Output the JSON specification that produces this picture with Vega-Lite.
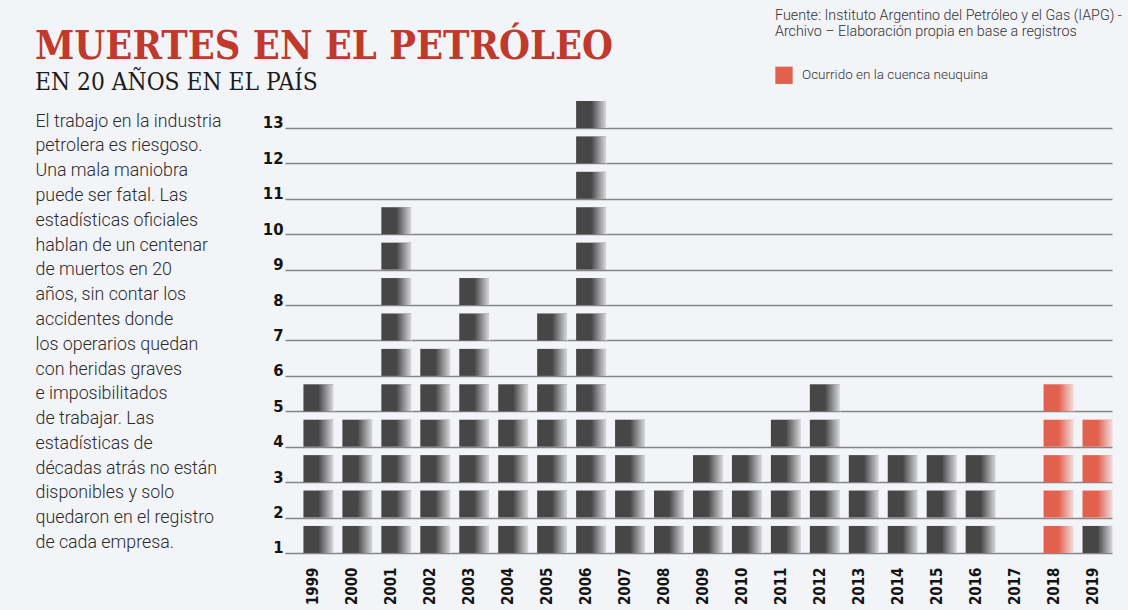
{
  "$schema": "https://vega.github.io/schema/vega-lite/v6.json",
  "width": 827,
  "height": 465,
  "autosize": {"type": "none"},
  "padding": {"left": 285, "top": 100, "right": 16, "bottom": 45},
  "background": "#f3f4f8",
  "title": {
    "text": "MUERTES EN EL PETRÓLEO",
    "subtitle": "EN 20 AÑOS EN EL PAÍS",
    "anchor": "start",
    "frame": "group",
    "dx": -250,
    "dy": 93,
    "offset": 6,
    "font": "DejaVu Serif Condensed",
    "fontWeight": "bold",
    "fontSize": 39.5,
    "color": "#c0392b",
    "subtitleFont": "DejaVu Serif Condensed",
    "subtitleFontSize": 24.3,
    "subtitleColor": "#1b1b1b",
    "subtitlePadding": 3
  },
  "data": {
    "values": [
      {"year": "1999", "n": 1, "zona": "resto"}, {"year": "1999", "n": 2, "zona": "resto"}, {"year": "1999", "n": 3, "zona": "resto"}, {"year": "1999", "n": 4, "zona": "resto"}, {"year": "1999", "n": 5, "zona": "resto"},
      {"year": "2000", "n": 1, "zona": "resto"}, {"year": "2000", "n": 2, "zona": "resto"}, {"year": "2000", "n": 3, "zona": "resto"}, {"year": "2000", "n": 4, "zona": "resto"},
      {"year": "2001", "n": 1, "zona": "resto"}, {"year": "2001", "n": 2, "zona": "resto"}, {"year": "2001", "n": 3, "zona": "resto"}, {"year": "2001", "n": 4, "zona": "resto"}, {"year": "2001", "n": 5, "zona": "resto"}, {"year": "2001", "n": 6, "zona": "resto"}, {"year": "2001", "n": 7, "zona": "resto"}, {"year": "2001", "n": 8, "zona": "resto"}, {"year": "2001", "n": 9, "zona": "resto"}, {"year": "2001", "n": 10, "zona": "resto"},
      {"year": "2002", "n": 1, "zona": "resto"}, {"year": "2002", "n": 2, "zona": "resto"}, {"year": "2002", "n": 3, "zona": "resto"}, {"year": "2002", "n": 4, "zona": "resto"}, {"year": "2002", "n": 5, "zona": "resto"}, {"year": "2002", "n": 6, "zona": "resto"},
      {"year": "2003", "n": 1, "zona": "resto"}, {"year": "2003", "n": 2, "zona": "resto"}, {"year": "2003", "n": 3, "zona": "resto"}, {"year": "2003", "n": 4, "zona": "resto"}, {"year": "2003", "n": 5, "zona": "resto"}, {"year": "2003", "n": 6, "zona": "resto"}, {"year": "2003", "n": 7, "zona": "resto"}, {"year": "2003", "n": 8, "zona": "resto"},
      {"year": "2004", "n": 1, "zona": "resto"}, {"year": "2004", "n": 2, "zona": "resto"}, {"year": "2004", "n": 3, "zona": "resto"}, {"year": "2004", "n": 4, "zona": "resto"}, {"year": "2004", "n": 5, "zona": "resto"},
      {"year": "2005", "n": 1, "zona": "resto"}, {"year": "2005", "n": 2, "zona": "resto"}, {"year": "2005", "n": 3, "zona": "resto"}, {"year": "2005", "n": 4, "zona": "resto"}, {"year": "2005", "n": 5, "zona": "resto"}, {"year": "2005", "n": 6, "zona": "resto"}, {"year": "2005", "n": 7, "zona": "resto"},
      {"year": "2006", "n": 1, "zona": "resto"}, {"year": "2006", "n": 2, "zona": "resto"}, {"year": "2006", "n": 3, "zona": "resto"}, {"year": "2006", "n": 4, "zona": "resto"}, {"year": "2006", "n": 5, "zona": "resto"}, {"year": "2006", "n": 6, "zona": "resto"}, {"year": "2006", "n": 7, "zona": "resto"}, {"year": "2006", "n": 8, "zona": "resto"}, {"year": "2006", "n": 9, "zona": "resto"}, {"year": "2006", "n": 10, "zona": "resto"}, {"year": "2006", "n": 11, "zona": "resto"}, {"year": "2006", "n": 12, "zona": "resto"}, {"year": "2006", "n": 13, "zona": "resto"},
      {"year": "2007", "n": 1, "zona": "resto"}, {"year": "2007", "n": 2, "zona": "resto"}, {"year": "2007", "n": 3, "zona": "resto"}, {"year": "2007", "n": 4, "zona": "resto"},
      {"year": "2008", "n": 1, "zona": "resto"}, {"year": "2008", "n": 2, "zona": "resto"},
      {"year": "2009", "n": 1, "zona": "resto"}, {"year": "2009", "n": 2, "zona": "resto"}, {"year": "2009", "n": 3, "zona": "resto"},
      {"year": "2010", "n": 1, "zona": "resto"}, {"year": "2010", "n": 2, "zona": "resto"}, {"year": "2010", "n": 3, "zona": "resto"},
      {"year": "2011", "n": 1, "zona": "resto"}, {"year": "2011", "n": 2, "zona": "resto"}, {"year": "2011", "n": 3, "zona": "resto"}, {"year": "2011", "n": 4, "zona": "resto"},
      {"year": "2012", "n": 1, "zona": "resto"}, {"year": "2012", "n": 2, "zona": "resto"}, {"year": "2012", "n": 3, "zona": "resto"}, {"year": "2012", "n": 4, "zona": "resto"}, {"year": "2012", "n": 5, "zona": "resto"},
      {"year": "2013", "n": 1, "zona": "resto"}, {"year": "2013", "n": 2, "zona": "resto"}, {"year": "2013", "n": 3, "zona": "resto"},
      {"year": "2014", "n": 1, "zona": "resto"}, {"year": "2014", "n": 2, "zona": "resto"}, {"year": "2014", "n": 3, "zona": "resto"},
      {"year": "2015", "n": 1, "zona": "resto"}, {"year": "2015", "n": 2, "zona": "resto"}, {"year": "2015", "n": 3, "zona": "resto"},
      {"year": "2016", "n": 1, "zona": "resto"}, {"year": "2016", "n": 2, "zona": "resto"}, {"year": "2016", "n": 3, "zona": "resto"},
      {"year": "2018", "n": 1, "zona": "neuquina"}, {"year": "2018", "n": 2, "zona": "neuquina"}, {"year": "2018", "n": 3, "zona": "neuquina"}, {"year": "2018", "n": 4, "zona": "neuquina"}, {"year": "2018", "n": 5, "zona": "neuquina"},
      {"year": "2019", "n": 1, "zona": "resto"}, {"year": "2019", "n": 2, "zona": "neuquina"}, {"year": "2019", "n": 3, "zona": "neuquina"}, {"year": "2019", "n": 4, "zona": "neuquina"}
    ]
  },
  "encoding": {
    "x": {
      "field": "year",
      "type": "nominal",
      "scale": {
        "domain": ["1999","2000","2001","2002","2003","2004","2005","2006","2007","2008","2009","2010","2011","2012","2013","2014","2015","2016","2017","2018","2019"],
        "paddingInner": 0,
        "paddingOuter": 0.115,
        "align": 1
      },
      "axis": {
        "title": null,
        "labelAngle": -90,
        "labelFont": "DejaVu Sans Condensed",
        "labelFontWeight": "bold",
        "labelFontSize": 15,
        "labelColor": "#141414",
        "labelPadding": 2,
        "domain": false,
        "ticks": false,
        "grid": false
      }
    },
    "y": {
      "field": "n",
      "type": "quantitative",
      "scale": {"domain": [0.66, 13.79], "nice": false, "zero": false},
      "axis": {
        "values": [1,2,3,4,5,6,7,8,9,10,11,12,13],
        "grid": true,
        "gridColor": "#858585",
        "gridWidth": 1.3,
        "domain": false,
        "ticks": false,
        "labelFont": "DejaVu Sans Condensed",
        "labelFontWeight": "bold",
        "labelFontSize": 16.5,
        "labelColor": "#141414",
        "labelBaseline": "alphabetic",
        "labelPadding": 2,
        "title": [
          "El trabajo en la industria",
          "petrolera es riesgoso.",
          "Una mala maniobra",
          "puede ser fatal. Las",
          "estadísticas oficiales",
          "hablan de un centenar",
          "de muertos en 20",
          "años, sin contar los",
          "accidentes donde",
          "los operarios quedan",
          "con heridas graves",
          "e imposibilitados",
          "de trabajar. Las",
          "estadísticas de",
          "décadas atrás no están",
          "disponibles y solo",
          "quedaron en el registro",
          "de cada empresa."
        ],
        "titleAngle": 0,
        "titleAlign": "left",
        "titleBaseline": "top",
        "titleX": -250,
        "titleY": 12,
        "titleFont": "Roboto",
        "titleFontWeight": 300,
        "titleFontSize": 17.8,
        "titleColor": "#2b2b2b",
        "titleLineHeight": 24.8
      }
    },
    "y2": {"field": "n"}
  },
  "layer": [
    {
      "mark": {"type": "bar", "width": 30, "xOffset": 5, "y2Offset": -27},
      "encoding": {
        "color": {
          "field": "zona",
          "type": "nominal",
          "scale": {"domain": ["resto", "neuquina"], "range": ["#464646", "#e2604e"]},
          "legend": {
            "values": ["neuquina"],
            "labelExpr": "'Ocurrido en la cuenca neuquina'",
            "orient": "none",
            "legendX": 490,
            "legendY": -91,
            "title": ["Fuente: Instituto Argentino del Petróleo y el Gas (IAPG) -", "Archivo – Elaboración propia en base a registros"],
            "titleFont": "Roboto",
            "titleFontSize": 14.3,
            "titleFontWeight": 300,
            "titleColor": "#333333",
            "titleLineHeight": 16,
            "titlePadding": 27,
            "titleLimit": 500,
            "labelFont": "Roboto",
            "labelFontSize": 13.5,
            "labelFontWeight": 300,
            "labelColor": "#333333",
            "labelOffset": 9,
            "labelLimit": 400,
            "symbolType": "square",
            "symbolSize": 300,
            "symbolStrokeWidth": 0
          }
        }
      }
    },
    {
      "mark": {
        "type": "bar",
        "width": 16,
        "xOffset": 13,
        "y2Offset": -27,
        "fill": {
          "gradient": "linear",
          "x1": 0, "y1": 0, "x2": 1, "y2": 0,
          "stops": [
            {"offset": 0, "color": "rgba(243,244,248,0)"},
            {"offset": 1, "color": "rgba(243,244,248,0.9)"}
          ]
        }
      }
    }
  ],
  "config": {
    "view": {"stroke": null}
  }
}
